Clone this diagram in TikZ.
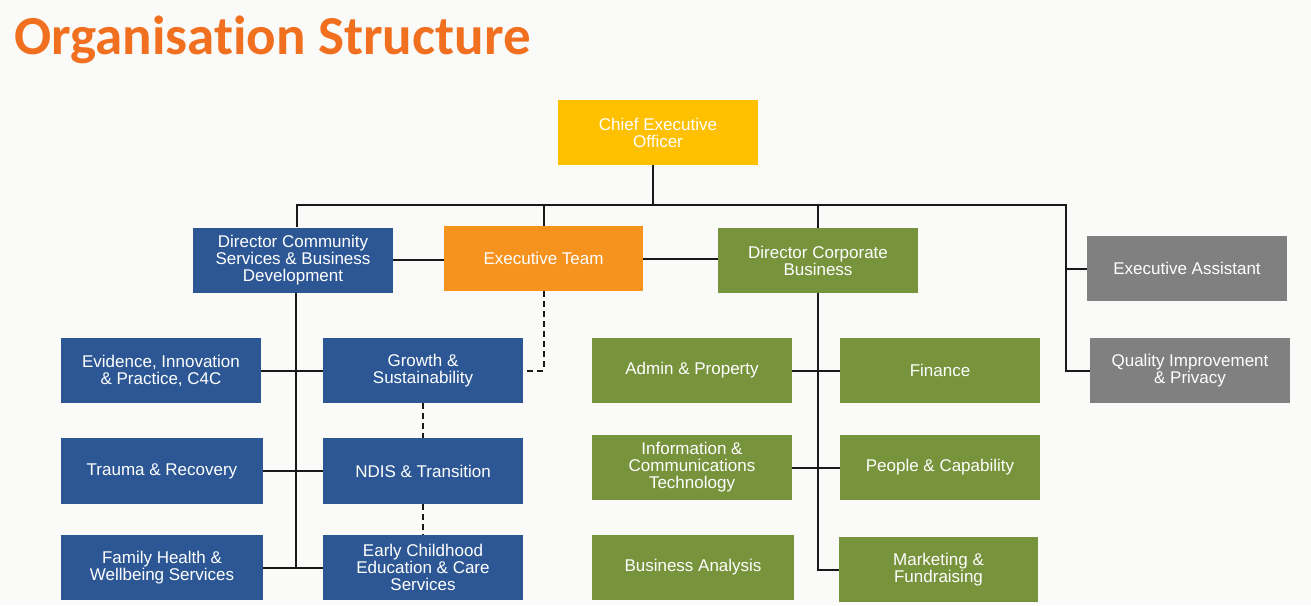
\documentclass[tikz,border=0pt]{standalone}
\usepackage{fontspec}
\setmainfont{Liberation Sans}
\newfontfamily\titlefont[Ligatures=NoCommon]{Carlito}
\definecolor{bgcol}{RGB}{250,250,248}
\definecolor{titleorange}{RGB}{240,112,32}
\definecolor{ceoyellow}{RGB}{255,192,0}
\definecolor{etorange}{RGB}{246,146,30}
\definecolor{csblue}{RGB}{44,87,148}
\definecolor{cbgreen}{RGB}{119,147,60}
\definecolor{exgray}{RGB}{128,128,128}
\definecolor{linecol}{RGB}{25,25,25}
\tikzset{
  box/.style={rectangle, minimum width=200pt, minimum height=65pt, inner sep=0pt,
    align=center, text=white, font=\fontsize{17}{17}\selectfont},
  bluebox/.style={box, fill=csblue},
  greenbox/.style={box, fill=cbgreen},
  graybox/.style={box, fill=exgray},
  conn/.style={draw=linecol, line width=2pt},
  dconn/.style={conn, dash pattern=on 6pt off 4pt}
}
\begin{document}
\begin{tikzpicture}[x=1pt,y=-1pt]
\fill[bgcol] (0,0) rectangle (1311,605);
\useasboundingbox (0,0) rectangle (1311,605);

\node[anchor=base west, inner sep=0pt, text=titleorange,
  font=\titlefont\bfseries\fontsize{55}{55}\selectfont] (title) at (14,54) {Organisation Structure};

% top level
\node[box, fill=ceoyellow] (ceo) at (658,132.5) {Chief Executive\\Officer};
\node[bluebox] (dcs) at (293,260) {Director Community\\Services \& Business\\Development};
\node[box, fill=etorange, minimum width=199pt] (et) at (543.5,258.5) {Executive Team};
\node[greenbox] (dcb) at (818,260.5) {Director Corporate\\Business};
\node[graybox] (ea) at (1187,268.5) {Executive Assistant};
\node[graybox] (qip) at (1190,370.5) {Quality Improvement\\\& Privacy};

% community services
\node[bluebox] (evi) at (161,370.5) {Evidence, Innovation\\\& Practice, C4C};
\node[bluebox] (gro) at (423,370.5) {Growth \&\\Sustainability};
\node[bluebox, minimum width=202pt, minimum height=66pt] (tra) at (162,471) {Trauma \& Recovery};
\node[bluebox, minimum height=66pt] (ndis) at (423,471) {NDIS \& Transition};
\node[bluebox, minimum width=202pt] (fam) at (162,567.5) {Family Health \&\\Wellbeing Services};
\node[bluebox] (ecec) at (423,567.5) {Early Childhood\\Education \& Care\\Services};

% corporate business
\node[greenbox] (adm) at (692,370.5) {Admin \& Property};
\node[greenbox] (fin) at (940,370.5) {Finance};
\node[greenbox] (ict) at (692,467.5) {Information \&\\Communications\\Technology};
\node[greenbox] (peo) at (940,467.5) {People \& Capability};
\node[greenbox, minimum width=202pt] (ba) at (693,567.5) {Business Analysis};
\node[greenbox, minimum width=199pt] (mkt) at (938.5,569.5) {Marketing \&\\Fundraising};

% bus
\coordinate (busL) at (297,205);
\coordinate (busR) at (1066,205);
\coordinate (spL) at (296,567);
\coordinate (ceoOut) at ([xshift=-5pt]ceo.south);

\draw[conn] (ceoOut) -- (ceoOut |- busL);
\draw[conn] (busL |- dcs.north) -- (busL) -- (busR) -- (busR |- qip.west) -- (qip.west);
\draw[conn] (busR |- ea.west) -- (ea.west);
\draw[conn] (et.north) -- (et.north |- busL);
\draw[conn] (dcb.north) -- (dcb.north |- busL);
\draw[conn] (dcs.east) -- (dcs.east -| et.west);
\draw[conn] (et.east) -- (et.east -| dcb.west);

% community spine
\draw[conn] (spL |- dcs.south) -- (spL);
\draw[conn] (evi.east) -- (gro.west);
\draw[conn] (tra.east) -- (ndis.west);
\draw[conn] (fam.east) -- (ecec.west);

% dashed
\draw[dconn] (et.south) -- (et.south |- gro.east) -- (gro.east);
\draw[dconn] (gro.south) -- (ndis.north);
\draw[dconn] (ndis.south) -- (ecec.north);

% corporate spine
\draw[conn] (dcb.south) -- (dcb.south |- mkt.west) -- (mkt.west);
\draw[conn] (adm.east) -- (fin.west);
\draw[conn] (ict.east) -- (peo.west);
\end{tikzpicture}
\end{document}
